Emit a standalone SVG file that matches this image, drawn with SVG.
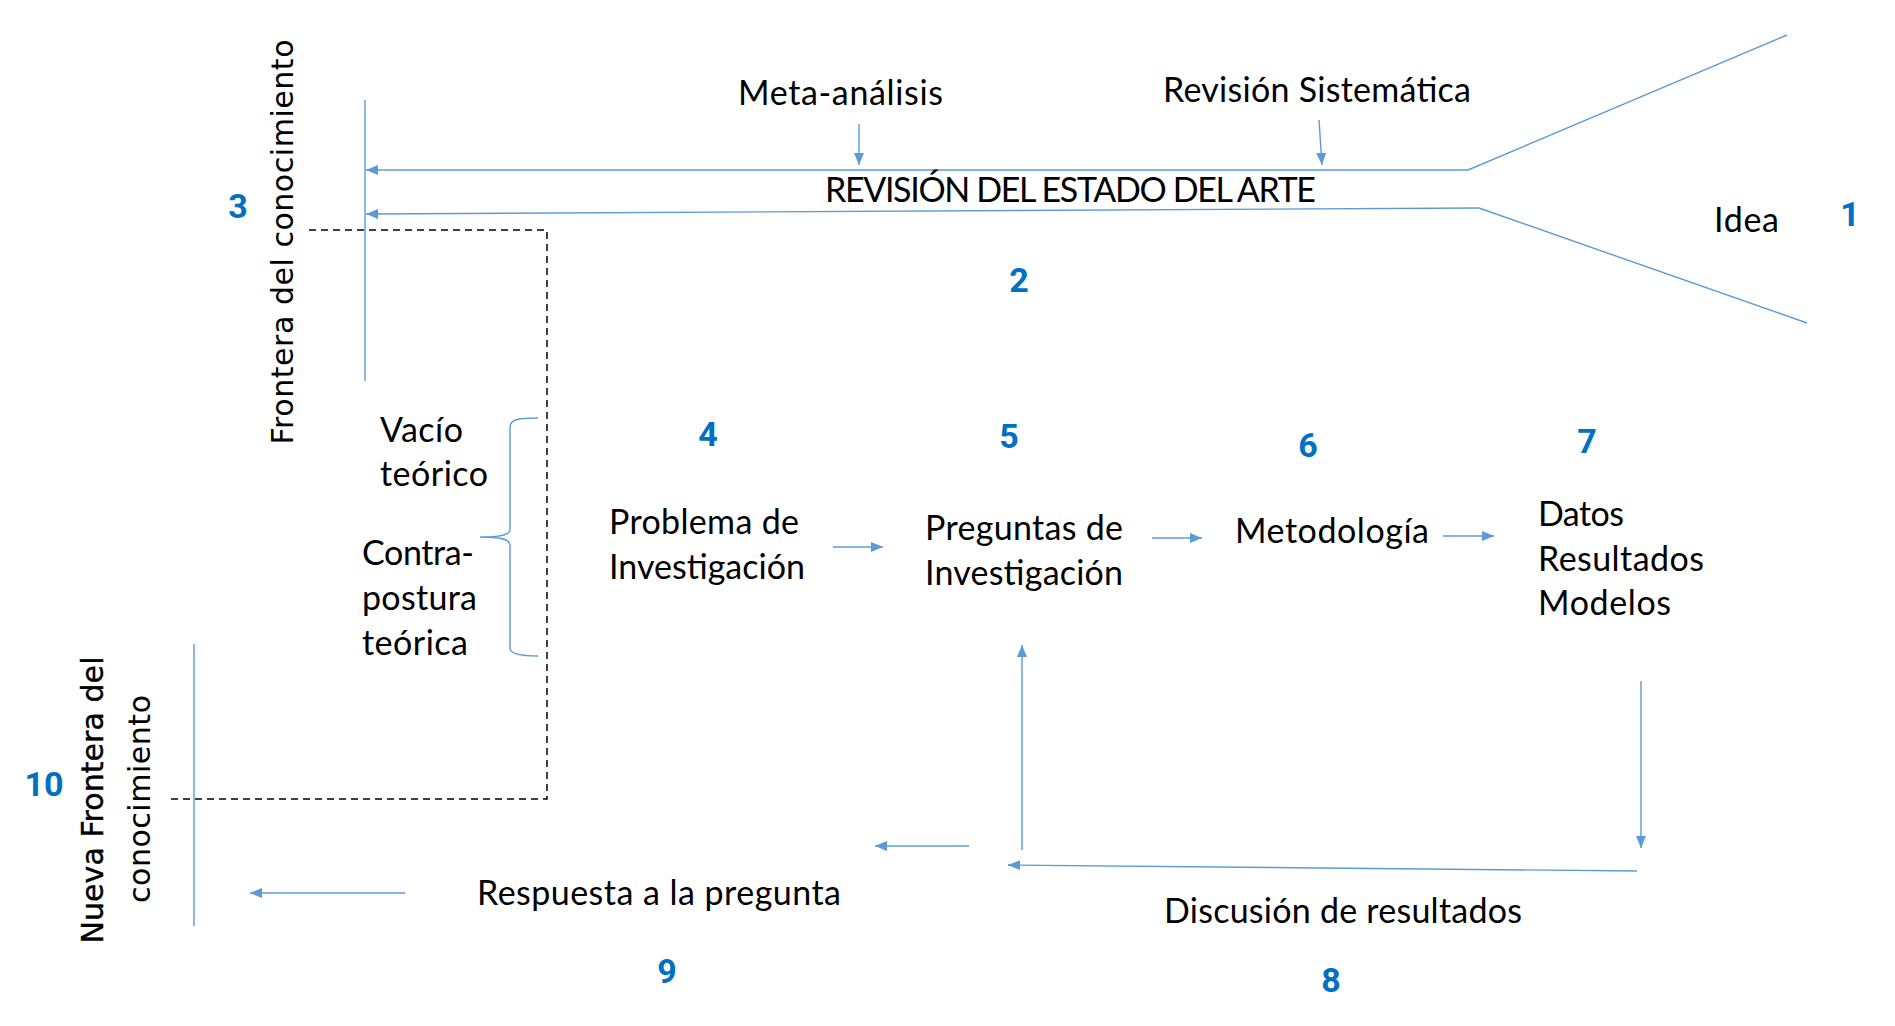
<svg xmlns="http://www.w3.org/2000/svg" width="1895" height="1026" viewBox="0 0 1895 1026">
<style>
.t{font-family:Lato,"Liberation Sans",sans-serif;font-size:34px;fill:#000}
.n{font-family:Roboto,"Liberation Sans",sans-serif;font-size:34px;font-weight:bold;fill:#0070C0;text-anchor:middle}
.v{font-family:"DejaVu Sans","Liberation Sans",sans-serif;font-size:30px;fill:#000;text-anchor:middle}
.b{stroke:#000;stroke-width:0.4}
.c{stroke:#5B9BD5;stroke-width:1.4;fill:none}
.a{marker-end:url(#ah)}
.d{stroke:#000;stroke-width:1.5;fill:none;stroke-dasharray:7 5}
</style>
<defs>
<marker id="ah" markerUnits="userSpaceOnUse" markerWidth="13" markerHeight="11" refX="12" refY="5" orient="auto" viewBox="0 0 13 10">
<path d="M0,0 L12,5 L0,10 z" fill="#5B9BD5"/>
</marker>
</defs>
<rect width="1895" height="1026" fill="#fff"/>
<g id="connectors">
<line class="c a" x1="1468" y1="170" x2="366" y2="170"/>
<line class="c a" x1="1479" y1="208" x2="366" y2="214"/>
<line class="c" x1="1468" y1="170" x2="1787" y2="35"/>
<line class="c" x1="1479" y1="208" x2="1807" y2="323"/>
<line class="c a" x1="859" y1="124" x2="859" y2="165"/>
<line class="c a" x1="1319" y1="120" x2="1322" y2="165"/>
<line class="c" x1="365" y1="100" x2="365" y2="381"/>
<line class="c" x1="194" y1="644" x2="194" y2="926"/>
<path class="d" d="M309,230 L547,230 L547,799 L169,799"/>
<path class="c" d="M538,418 C520,418 510,419 510,427 L510,530 C510,535 500,537 480,537 C500,537 510,539 510,545 L510,648 C510,654 520,656 538,656"/>
<line class="c a" x1="833" y1="547" x2="883" y2="547"/>
<line class="c a" x1="1152" y1="538" x2="1202" y2="538"/>
<line class="c a" x1="1443" y1="536" x2="1494" y2="536"/>
<line class="c a" x1="1641" y1="681" x2="1641" y2="848"/>
<line class="c a" x1="1637" y1="871" x2="1008" y2="865"/>
<line class="c a" x1="1022" y1="850" x2="1022" y2="645"/>
<line class="c a" x1="969" y1="846" x2="875" y2="846"/>
<line class="c a" x1="405" y1="893" x2="250" y2="893"/>
</g>
<g id="node-idea"><text class="t" x="1714" y="232" textLength="65">Idea</text><text class="n" x="1850" y="226">1</text></g>
<g id="node-revision"><text class="t" x="825" y="202" textLength="491">REVISIÓN DEL ESTADO DEL ARTE</text><text class="n" x="1019" y="292">2</text></g>
<g id="node-meta"><text class="t" x="738" y="105" textLength="205">Meta-análisis</text></g>
<g id="node-sistematica"><text class="t" x="1163" y="102" textLength="308">Revisión Sistemática</text></g>
<g id="node-frontera"><text class="v" transform="translate(293,242) rotate(-90)" textLength="405">Frontera del conocimiento</text><text class="n" x="238" y="218">3</text></g>
<g id="node-vacio"><text class="t" x="380" y="442" textLength="83">Vacío</text><text class="t" x="380" y="486" textLength="108">teórico</text></g>
<g id="node-contra"><text class="t" x="362" y="565" textLength="112">Contra-</text><text class="t" x="362" y="610" textLength="115">postura</text><text class="t" x="362" y="655" textLength="106">teórica</text></g>
<g id="node-problema"><text class="n" x="708" y="446">4</text><text class="t" x="609" y="534" textLength="190">Problema de</text><text class="t" x="609" y="579" textLength="196">Investigación</text></g>
<g id="node-preguntas"><text class="n" x="1009" y="448">5</text><text class="t" x="925" y="540" textLength="198">Preguntas de</text><text class="t" x="925" y="585" textLength="198">Investigación</text></g>
<g id="node-metodologia"><text class="n" x="1308" y="457">6</text><text class="t" x="1235" y="543" textLength="194">Metodología</text></g>
<g id="node-datos"><text class="n" x="1587" y="453">7</text><text class="t" x="1538" y="526" textLength="86">Datos</text><text class="t" x="1538" y="571" textLength="166">Resultados</text><text class="t" x="1538" y="615" textLength="133">Modelos</text></g>
<g id="node-discusion"><text class="t" x="1164" y="923" textLength="358">Discusión de resultados</text><text class="n" x="1331" y="992">8</text></g>
<g id="node-respuesta"><text class="t" x="477" y="905" textLength="364">Respuesta a la pregunta</text><text class="n" x="667" y="983">9</text></g>
<g id="node-nueva"><text class="v b" transform="translate(103,800) rotate(-90)" textLength="287">Nueva Frontera del</text><text class="v" transform="translate(150,799) rotate(-90)" textLength="208">conocimiento</text><text class="n" x="44" y="796">10</text></g>
</svg>
